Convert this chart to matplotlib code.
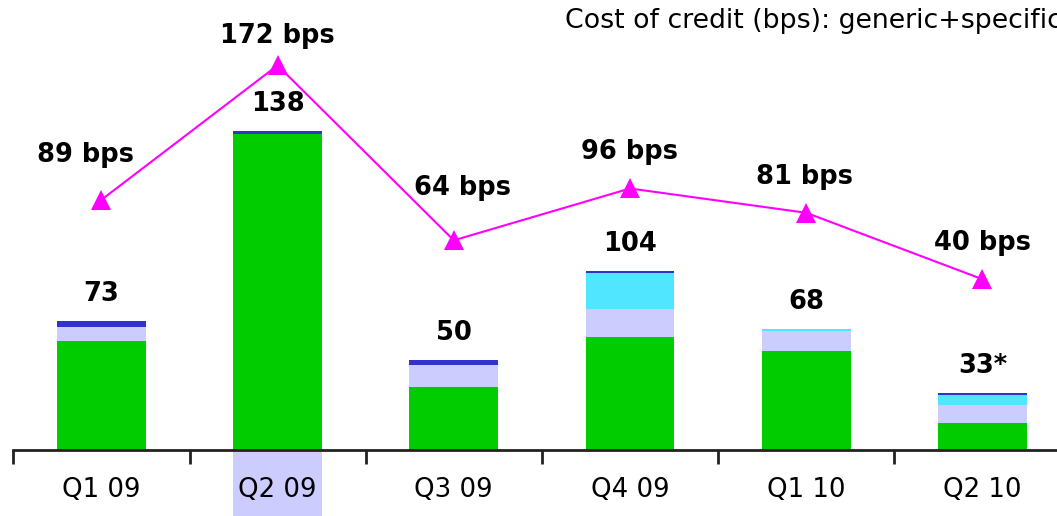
import matplotlib
matplotlib.use('Agg')
from matplotlib import pyplot as plt
from matplotlib.patches import Rectangle
import matplotlib.transforms as mtransforms

# Data
quarters = ['Q1 09', 'Q2 09', 'Q3 09', 'Q4 09', 'Q1 10', 'Q2 10']
generic = [61.9, 179.5, 35.8, 64.2, 56.3, 15.3]
specific = [8.0, 0.0, 12.5, 15.9, 11.4, 10.2]
other_cyan = [0.0, 0.0, 0.0, 20.5, 1.1, 5.7]
other_dark = [3.4, 1.7, 2.8, 1.1, 0.0, 1.1]
bar_labels = ['73', '138', '50', '104', '68', '33*']
cost_bps = [89, 172, 64, 96, 81, 40]
highlight = 'Q2 09'

# Label offsets (pixels) for the bps labels
bps_offsets = [(-16, 45), (0, 29), (9, 52), (0, 36), (-2, 36), (0, 36)]

W, H = 1057, 516
fig = plt.figure(figsize=(W / 100, H / 100), dpi=100)
ax = fig.add_axes([13.3 / W, 66 / H, 1057.2 / W, 450 / H])
ax2 = ax.twinx()

x = list(range(len(quarters)))
bw = 0.505

# Stacked bars
bottom = [0] * len(x)
for vals, col in [(generic, '#00CC00'), (specific, '#CCCCFF'),
                  (other_cyan, '#50E6FF'), (other_dark, '#3333CC')]:
    ax.bar(x, vals, bw, bottom=bottom, color=col, linewidth=0, zorder=2)
    bottom = [b + v for b, v in zip(bottom, vals)]

for xi, top, lab in zip(x, bottom, bar_labels):
    ax.annotate(lab, (xi, top), xytext=(0, 27), textcoords='offset pixels',
                ha='center', va='center', fontsize=18.5, fontweight='bold')

ax.set_xlim(-0.5, len(x) - 0.5)
ax.set_ylim(0, 450 / 1.76)

# Line on secondary axis
ax2.plot(x, cost_bps, color='#FF00FF', lw=1.5, marker='^', markersize=14,
         markeredgewidth=0, zorder=3)
ax2.set_ylim(-106 / 1.62, 344 / 1.62)
for xi, v, off in zip(x, cost_bps, bps_offsets):
    ax2.annotate(f'{v} bps', (xi, v), xytext=off, textcoords='offset pixels',
                 ha='center', va='center', fontsize=18.5, fontweight='bold')

# Axes styling
for a in (ax, ax2):
    for s in a.spines.values():
        s.set_visible(False)
    a.set_yticks([])
ax.spines['bottom'].set_visible(True)
ax.spines['bottom'].set_linewidth(2)
ax.spines['bottom'].set_color('#222222')
ax.set_xticks([i - 0.5 for i in range(len(x) + 1)])
ax.set_xticklabels([])
ax.tick_params(axis='x', length=10, width=2, color='#222222', direction='out')

trans = mtransforms.blended_transform_factory(ax.transData, ax.transAxes)
for xi, q in zip(x, quarters):
    if q == highlight:
        ax.add_patch(Rectangle((xi - bw / 2, -66 / 450), bw, 66 / 450,
                               transform=trans, color='#CCCCFF', clip_on=False,
                               zorder=0, linewidth=0))
    ax.text(xi, -40 / 450, q, transform=trans, ha='center', va='center',
            fontsize=18.7)

fig.text(565 / W, 1 - 21 / H, 'Cost of credit (bps): generic+specific',
         ha='left', va='center', fontsize=19.3)

fig.savefig('out.png', dpi=100)
